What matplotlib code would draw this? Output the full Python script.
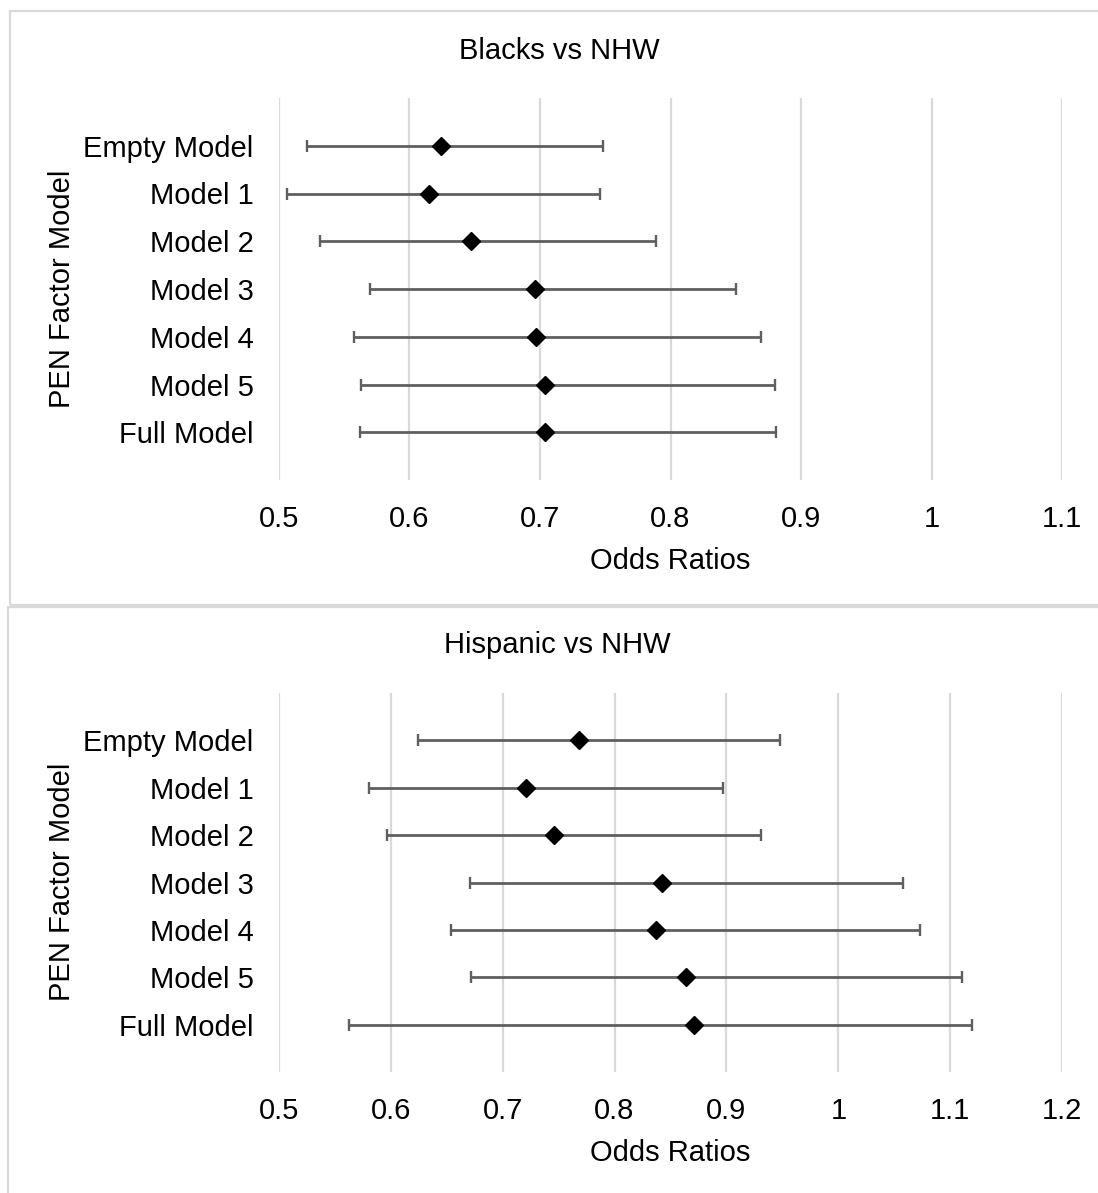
import matplotlib
matplotlib.use("Agg")
import matplotlib.pyplot as plt
from matplotlib.patches import Rectangle

plt.rcParams['font.family'] = ['Liberation Sans', 'DejaVu Sans']

models = ["Empty Model", "Model 1", "Model 2", "Model 3", "Model 4", "Model 5", "Full Model"]
y_pos = [7, 6, 5, 4, 3, 2, 1]

blacks_or = [0.624, 0.615, 0.647, 0.696, 0.697, 0.704, 0.704]
blacks_lo = [0.522, 0.506, 0.532, 0.570, 0.558, 0.563, 0.562]
blacks_hi = [0.748, 0.746, 0.789, 0.850, 0.869, 0.880, 0.881]

hisp_or = [0.768, 0.721, 0.746, 0.842, 0.837, 0.864, 0.871]
hisp_lo = [0.624, 0.581, 0.597, 0.671, 0.654, 0.672, 0.563]
hisp_hi = [0.948, 0.897, 0.931, 1.058, 1.073, 1.110, 1.119]

top_ticks = [0.5, 0.6, 0.7, 0.8, 0.9, 1.0, 1.1]
top_labels = ["0.5", "0.6", "0.7", "0.8", "0.9", "1", "1.1"]
bot_ticks = [0.5, 0.6, 0.7, 0.8, 0.9, 1.0, 1.1, 1.2]
bot_labels = ["0.5", "0.6", "0.7", "0.8", "0.9", "1", "1.1", "1.2"]

W, H = 1098, 1193
fig = plt.figure(figsize=(W / 100, H / 100), dpi=100)

FS = 21
GRID = "#d9d9d9"
ERR = "#5f5f5f"


def fx(px):
    return px / W


def fy(py):
    return 1 - py / H


# panel borders
fig.add_artist(Rectangle((fx(10), fy(605)), 1.0, fy(11) - fy(605),
                         transform=fig.transFigure, fill=False,
                         edgecolor=GRID, linewidth=1.6))
fig.add_artist(Rectangle((fx(8), fy(1200)), 1.0, fy(607) - fy(1200),
                         transform=fig.transFigure, fill=False,
                         edgecolor=GRID, linewidth=1.6))


def panel(ax, ors, lo, hi, ticks, labels, xlim):
    xerr = [[o - l for o, l in zip(ors, lo)], [h - o for o, h in zip(ors, hi)]]
    ax.errorbar(ors, y_pos, xerr=xerr, fmt='none', ecolor=ERR,
                elinewidth=2.0, capsize=4.6, capthick=1.7, zorder=3)
    ax.plot(ors, y_pos, linestyle='none', marker='D', markersize=9.5,
            color='black', zorder=4)
    ax.set_xlim(*xlim)
    ax.set_ylim(0, 8)
    ax.set_xticks(ticks)
    ax.set_xticklabels(labels, fontsize=FS)
    ax.set_yticks(y_pos)
    ax.set_yticklabels(models, fontsize=FS)
    ax.tick_params(axis='both', length=0)
    ax.tick_params(axis='y', pad=18)
    ax.tick_params(axis='x', pad=18)
    ax.grid(axis='x', color=GRID, linewidth=1.6, zorder=0)
    ax.set_axisbelow(True)
    for s in ax.spines.values():
        s.set_visible(False)
    ax.set_xlabel("Odds Ratios", fontsize=FS, labelpad=10)
    ax.set_ylabel("PEN Factor Model", fontsize=FS)


left = fx(278.7)
width = fx(1062.3) - left

ax1 = fig.add_axes([left, fy(480), width, fy(98) - fy(480)])
panel(ax1, blacks_or, blacks_lo, blacks_hi, top_ticks, top_labels, (0.5, 1.1))

ax2 = fig.add_axes([left, fy(1072), width, fy(693) - fy(1072)])
panel(ax2, hisp_or, hisp_lo, hisp_hi, bot_ticks, bot_labels, (0.5, 1.2))

ax1.yaxis.set_label_coords(fx(76), fy(289), transform=fig.transFigure)
ax2.yaxis.set_label_coords(fx(76), fy(882), transform=fig.transFigure)

fig.text(fx(559), fy(51), "Blacks vs NHW", fontsize=FS, ha='center', va='center')
fig.text(fx(557), fy(645), "Hispanic vs NHW", fontsize=FS, ha='center', va='center')

fig.savefig("out.png", dpi=100, facecolor='white')
